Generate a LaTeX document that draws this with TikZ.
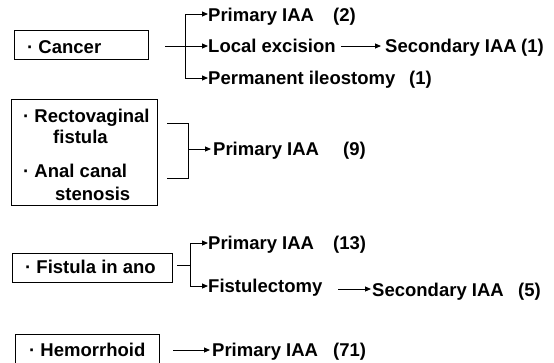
\documentclass[tikz,border=0pt]{standalone}
\usepackage{fontspec}
\setmainfont{Liberation Sans}
\usetikzlibrary{arrows.meta,fit}
\begin{document}
\begin{tikzpicture}[x=1pt,y=-1pt,
  txt/.style={font=\fontsize{18.5}{22}\selectfont\bfseries, inner sep=0pt, anchor=base west},
  box/.style={draw, line width=0.9pt, inner sep=0pt},
  conn/.style={line width=0.9pt},
  arr/.style={conn, -{Triangle[length=6pt,width=5pt]}}]
\useasboundingbox (0,0) rectangle (554,362);
\clip (0,0) rectangle (554,362);

% ---------- Cancer ----------
\node[box, fit={(14,30) (148,59)}] (cancerbox) {};
\node[txt] (cancer) at (27,53) {· Cancer};
\coordinate (c0) at (165,46);
\coordinate (cb) at (185,46);
\coordinate (ct) at (185,14);
\coordinate (cd) at (185,78);
\node[txt] (p2) at (208,21) {Primary IAA};
\node[txt] (n2) at (333,21) {(2)};
\node[txt] (le) at (208,52) {Local excision};
\node[txt] (s1) at (385,52) {Secondary IAA};
\node[txt] (n1a) at (521,52) {(1)};
\node[txt] (pi) at (208,84) {Permanent ileostomy};
\node[txt] (n1b) at (409,84) {(1)};
\coordinate (la) at ([xshift=5pt]le.east |- cb);
\draw[conn] (c0) -- (cb);
\draw[conn] (ct) -- (cd);
\draw[arr] (ct) -- (ct -| p2.west);
\draw[arr] (cb) -- (cb -| le.west);
\draw[arr] (cd) -- (cd -| pi.west);
\draw[arr] (la) -- ([xshift=-4pt]s1.west |- la);

% ---------- Rectovaginal / Anal canal ----------
\node[box, fit={(11,99) (157,205)}] (rvbox) {};
\node[txt] (rv1) at (23,122) {· Rectovaginal};
\node[txt] (rv2) at (53,143) {fistula};
\node[txt] (ac1) at (23,177) {· Anal canal};
\node[txt] (ac2) at (55,200) {stenosis};
\coordinate (b1) at (167,123);
\coordinate (b2) at (188,123);
\coordinate (b3) at (188,178);
\coordinate (b4) at (167,178);
\coordinate (bm) at (188,149);
\node[txt] (p9) at (213,155) {Primary IAA};
\node[txt] (n9) at (343,155) {(9)};
\draw[conn] (b1) -- (b2) -- (b3) -- (b4);
\draw[arr] (bm) -- ([xshift=-2pt]p9.west |- bm);

% ---------- Fistula in ano ----------
\node[box, fit={(12,253) (172,282)}] (fibox) {};
\node[txt] (fi) at (25,273) {· Fistula in ano};
\coordinate (f0) at (177,265);
\coordinate (fm) at (190,265);
\coordinate (ft) at (190,243);
\coordinate (fd) at (190,286);
\node[txt] (p13) at (208,249) {Primary IAA};
\node[txt] (n13) at (333,249) {(13)};
\node[txt] (fe) at (208,292) {Fistulectomy};
\node[txt] (s5) at (372,296) {Secondary IAA};
\node[txt] (n5) at (518,296) {(5)};
\draw[conn] (f0) -- (fm);
\draw[conn] (ft) -- (fd);
\draw[arr] (ft) -- (ft -| p13.west);
\draw[arr] (fd) -- (fd -| fe.west);
\coordinate (fa) at (338,289);
\draw[arr] (fa) -- ([xshift=-1pt]s5.west |- fa);

% ---------- Hemorrhoid ----------
\node[box, fit={(15,334) (159,372)}] (hebox) {};
\node[txt] (he) at (29,356) {· Hemorrhoid};
\coordinate (h0) at (173,350);
\node[txt] (p71) at (212,356) {Primary IAA};
\node[txt] (n71) at (333,356) {(71)};
\draw[arr] (h0) -- ([xshift=-2pt]p71.west |- h0);
\end{tikzpicture}
\end{document}
